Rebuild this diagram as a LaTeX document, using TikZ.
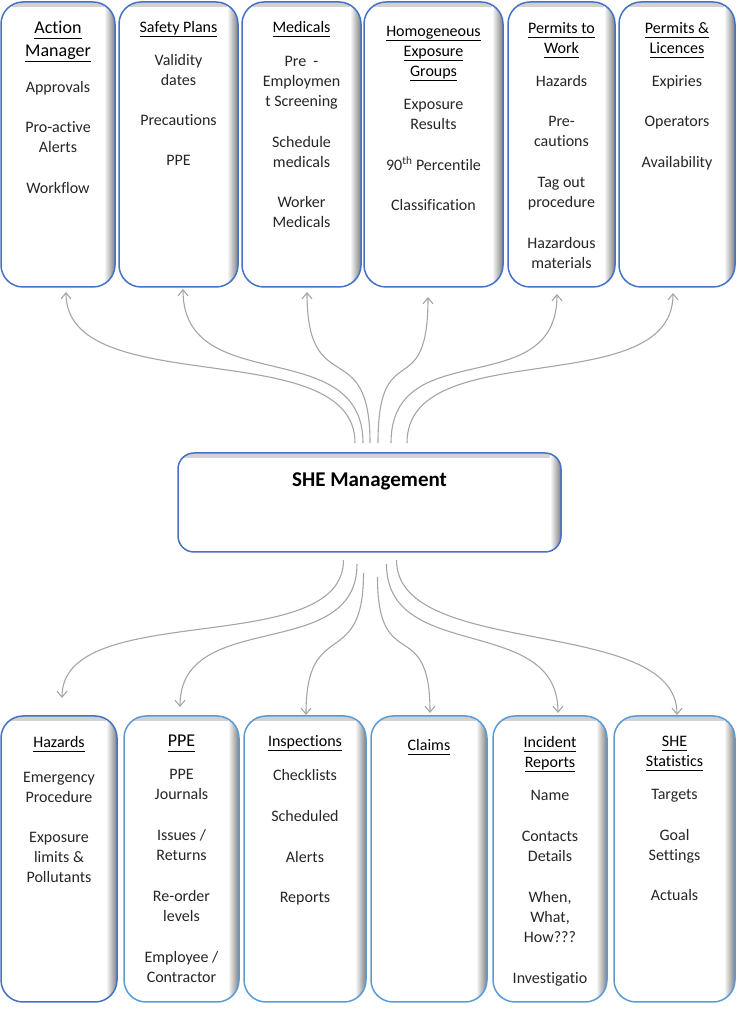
\documentclass[tikz,border=0pt]{standalone}
\usepackage{fontspec}
\setmainfont{Carlito}[Ligatures=NoCommon]
\usepackage{tikz}
\usetikzlibrary{positioning,arrows.meta}

\definecolor{topblue}{RGB}{68,114,196}
\definecolor{lowblue}{RGB}{91,155,213}
\definecolor{linkgray}{RGB}{165,165,165}

\newcommand{\hdr}[1]{\textcolor{black}{\underline{#1\vphantom{y}}}}
\newcommand{\hdrbig}[1]{{\fontsize{18}{23}\selectfont\hdr{#1}}}

\tikzset{
  panel/.style={draw=topblue, line width=1.5pt, fill=white, rounded corners=22pt,
    minimum height=285pt, outer sep=0pt,
    path picture={
      \shade[sharp corners, top color=black!18, bottom color=white]
        (path picture bounding box.north west) rectangle ([yshift=-5pt]path picture bounding box.north east);
      \shade[sharp corners, left color=white, right color=black!50]
        ([xshift=-11pt]path picture bounding box.north east) rectangle (path picture bounding box.south east);
    }},
  items/.style={align=center, inner sep=0pt, font=\fontsize{16}{20}\selectfont, text=black!85},
  link/.style={draw=linkgray, line width=1.1pt, ->}
}

\begin{document}
\begin{tikzpicture}[x=1pt,y=1pt,>={Straight Barb[length=6pt,width=10pt]}]
\useasboundingbox (0,0) rectangle (738,1010);

% top row
\node[panel, minimum width=114pt] (am) at (58,865.5) {};
\node[panel, minimum width=119pt, right=4pt of am] (sp) {};
\node[panel, minimum width=119pt, right=4pt of sp] (med) {};
\node[panel, minimum width=139pt, right=3pt of med] (heg) {};
\node[panel, minimum width=107pt, right=5pt of heg] (ptw) {};
\node[panel, minimum width=116pt, right=4pt of ptw] (pl) {};

\node[items, below=19pt of am.north] (amt) {\hdrbig{Action}\\[3pt]\hdrbig{Manager}\\[16pt]
  Approvals\\[20pt] Pro-active\\Alerts\\[21pt] Workflow};
\node[items, below=19pt of sp.north] (spt) {\hdr{Safety Plans}\\[13pt]
  Validity\\dates\\[20pt] Precautions\\[20pt] PPE};
\node[items, below=19pt of med.north] (medt) {\hdr{Medicals}\\[14pt]
  Pre \ -\\Employmen\\t Screening\\[21pt] Schedule\\medicals\\[20pt] Worker\\Medicals};
\node[items, below=24pt of heg.north] (hegt) {\hdr{Homogeneous}\\\hdr{Exposure}\\\hdr{Groups}\\[13pt]
  Exposure\\Results\\[21pt] 90\textsuperscript{th} Percentile\\[20pt] Classification};
\node[items, below=20pt of ptw.north] (ptwt) {\hdr{Permits to}\\\hdr{Work}\\[13pt]
  Hazards\\[20pt] Pre-\\cautions\\[21pt] Tag out\\procedure\\[21pt] Hazardous\\materials};
\node[items, below=20pt of pl.north] (plt) {\hdr{Permits \&}\\\hdr{Licences}\\[13pt]
  Expiries\\[20pt] Operators\\[21pt] Availability};

% centre
\node[panel, minimum width=383pt, minimum height=99pt, rounded corners=16pt] (she) at (369.5,507.5) {};
\node[font=\bfseries\fontsize{21}{25}\selectfont, inner sep=0pt, below=20pt of she.north] (shet) {SHE Management};

% bottom row
\node[panel, minimum width=116pt, minimum height=286pt] (haz) at (59,151) {};
\node[panel, draw=lowblue, minimum width=115pt, minimum height=286pt, right=7pt of haz] (ppe) {};
\node[panel, draw=lowblue, minimum width=122pt, minimum height=286pt, right=5pt of ppe] (insp) {};
\node[panel, draw=lowblue, minimum width=116pt, minimum height=286pt, right=5pt of insp] (clm) {};
\node[panel, draw=lowblue, minimum width=114pt, minimum height=286pt, right=6pt of clm] (ir) {};
\node[panel, draw=lowblue, minimum width=121pt, minimum height=286pt, right=7pt of ir] (stat) {};

\node[items, below=20pt of haz.north] (hazt) {\hdr{Hazards}\\[15pt]
  Emergency\\Procedure\\[20pt] Exposure\\limits \&\\Pollutants};
\node[items, below=19pt of ppe.north] (ppet) {\hdrbig{PPE}\\[13pt]
  PPE\\Journals\\[21pt] Issues /\\Returns\\[21pt] Re-order\\levels\\[21pt] Employee /\\Contractor};
\node[items, below=19pt of insp.north] (inspt) {\hdr{Inspections}\\[14pt]
  Checklists\\[21pt] Scheduled\\[21pt] Alerts\\[20pt] Reports};
\node[items, below=23pt of clm.north] (clmt) {\hdr{Claims}};
\node[items, below=20pt of ir.north] (irt) {\hdr{Incident}\\\hdr{Reports}\\[13pt]
  Name\\[21pt] Contacts\\Details\\[21pt] When,\\What,\\How???\\[21pt] Investigatio};
\node[items, below=20pt of stat.north] (statt) {\hdr{SHE}\\\hdr{Statistics}\\[13pt]
  Targets\\[21pt] Goal\\Settings\\[20pt] Actuals};

% connectors up
\draw[link] ([xshift=-14.5pt,yshift=10pt]she.north) .. controls +(0,110) and +(0,-110) .. ([xshift=8pt,yshift=-5pt]am.south);
\draw[link] ([xshift=-6.5pt,yshift=10pt]she.north) .. controls +(0,110) and +(0,-110) .. ([xshift=4.5pt,yshift=-2pt]sp.south);
\draw[link] ([xshift=0.5pt,yshift=10pt]she.north) .. controls +(0,110) and +(0,-110) .. ([xshift=5.5pt,yshift=-5pt]med.south);
\draw[link] ([xshift=8.5pt,yshift=10pt]she.north) .. controls +(0,110) and +(0,-110) .. ([xshift=-5.5pt,yshift=-10pt]heg.south);
\draw[link] ([xshift=21.5pt,yshift=10pt]she.north) .. controls +(0,110) and +(0,-110) .. ([xshift=-4.5pt,yshift=-7pt]ptw.south);
\draw[link] ([xshift=37.5pt,yshift=10pt]she.north) .. controls +(0,110) and +(0,-110) .. ([xshift=-4pt,yshift=-6pt]pl.south);

% connectors down
\draw[link] ([xshift=-26pt,yshift=-8pt]she.south) .. controls +(0,-100) and +(0,100) .. ([xshift=3pt,yshift=18pt]haz.north);
\draw[link] ([xshift=-12.5pt,yshift=-12pt]she.south) .. controls +(0,-100) and +(0,100) .. ([xshift=-1.5pt,yshift=9pt]ppe.north);
\draw[link] ([xshift=-6pt,yshift=-21pt]she.south) .. controls +(0,-100) and +(0,100) .. ([xshift=1pt,yshift=1pt]insp.north);
\draw[link] ([xshift=8pt,yshift=-25pt]she.south) .. controls +(0,-100) and +(0,100) .. ([xshift=1pt,yshift=3pt]clm.north);
\draw[link] ([xshift=17pt,yshift=-12pt]she.south) .. controls +(0,-100) and +(0,100) .. ([xshift=8pt,yshift=3pt]ir.north);
\draw[link] ([xshift=27pt,yshift=-8pt]she.south) .. controls +(0,-100) and +(0,100) .. ([xshift=2.5pt,yshift=1pt]stat.north);
\end{tikzpicture}
\end{document}
